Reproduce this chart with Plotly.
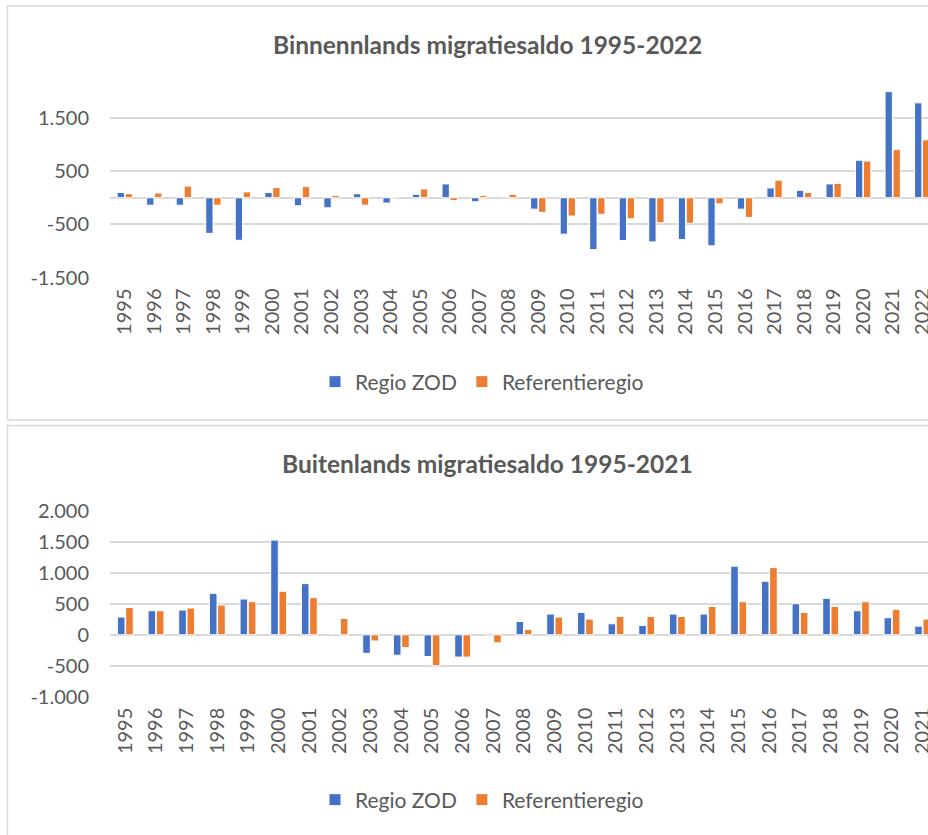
import plotly.graph_objects as go

# Binnenlands migratiesaldo 1995-2022
years_bin = [str(y) for y in range(1995, 2023)]
bin_zod = [100, -140, -140, -670, -800, 100, -150, -190, 75, -100, 65, 260, -75, 25,
           -215, -685, -975, -805, -830, -785, -905, -215, 185, 140, 260, 705, 1995, 1785]
bin_ref = [75, 90, 220, -140, 110, 190, 210, 45, -140, 15, 165, -55, 40, 65,
           -275, -345, -310, -395, -470, -480, -115, -370, 330, 100, 270, 690, 905, 1090]

# Buitenlands migratiesaldo 1995-2021
years_buit = [str(y) for y in range(1995, 2022)]
buit_zod = [286, 389, 400, 670, 578, 1530, 827, -20, -300, -330, -350, -360, 15, 216,
            335, 362, 178, 151, 335, 335, 1108, 865, 503, 589, 389, 276, 140]
buit_ref = [443, 389, 432, 481, 535, 703, 600, 265, -100, -205, -500, -360, -130, 86,
            286, 254, 297, 297, 297, 459, 535, 1086, 362, 459, 535, 411, 254]

bin_tickvals = [-1500, -500, 500, 1500]
bin_ticktext = ["-1.500", "-500", "500", "1.500"]
buit_tickvals = [-1000, -500, 0, 500, 1000, 1500, 2000]
buit_ticktext = ["-1.000", "-500", "0", "500", "1.000", "1.500", "2.000"]

titles = ["Binnennlands migratiesaldo 1995-2022", "Buitenlands migratiesaldo 1995-2021"]
series_names = ["Regio ZOD", "Referentieregio"]

BLUE = "#4472C4"
ORANGE = "#ED7D31"
GREY = "#595959"
GRID = "#D9D9D9"
W, H = 928, 835


def px(x):
    return x / W


def py(y):
    return 1 - y / H


fig = go.Figure()

for name, vals, col in zip(series_names, [bin_zod, bin_ref], [BLUE, ORANGE]):
    fig.add_trace(go.Bar(x=years_bin, y=vals, name=name, marker_color=col,
                         marker_line=dict(color="white", width=1),
                         xaxis="x", yaxis="y", legend="legend"))

for name, vals, col in zip(series_names, [buit_zod, buit_ref], [BLUE, ORANGE]):
    fig.add_trace(go.Bar(x=years_buit, y=vals, name=name, marker_color=col,
                         marker_line=dict(color="white", width=1),
                         xaxis="x2", yaxis="y2", legend="legend2"))

tick_font = dict(family="Lato", size=20, color=GREY)
legend_font = dict(family="Lato", size=21, color=GREY)

# the plot areas run past the right edge of the picture (cut at 928 px)
top_end = -0.5 + (W - 110) / ((937 - 110) / 28)
bot_end = -0.5 + (W - 110) / ((938 - 110) / 27)

xcommon = dict(type="category", tickangle=-90, tickfont=tick_font, showgrid=False,
               showline=False, ticks="", ticklabelstandoff=6, automargin=False)
ycommon = dict(tickfont=tick_font, gridcolor=GRID, gridwidth=1.5, zeroline=True,
               zerolinecolor=GRID, zerolinewidth=1.5, showline=False, ticks="",
               ticklabelstandoff=20, automargin=False)

fig.update_layout(
    template="none",
    width=W, height=H,
    margin=dict(l=0, r=0, t=0, b=0, autoexpand=False),
    paper_bgcolor="white", plot_bgcolor="white",
    barmode="group", bargap=0.46, bargroupgap=0.08,
    xaxis=dict(domain=[px(110), 1], anchor="y", range=[-0.5, top_end], **xcommon),
    yaxis=dict(domain=[py(277.5), py(91.4)], anchor="x", range=[-1500, 2000],
               tickvals=bin_tickvals, ticktext=bin_ticktext, **ycommon),
    xaxis2=dict(domain=[px(110), 1], anchor="y2", range=[-0.5, bot_end], **xcommon),
    yaxis2=dict(domain=[py(696.7), py(511)], anchor="x2", range=[-1000, 2000],
                tickvals=buit_tickvals, ticktext=buit_ticktext, **ycommon),
    legend=dict(orientation="h", x=px(315), y=py(382), xanchor="left", yanchor="middle",
                font=legend_font, bgcolor="rgba(0,0,0,0)"),
    legend2=dict(orientation="h", x=px(315), y=py(800), xanchor="left", yanchor="middle",
                 font=legend_font, bgcolor="rgba(0,0,0,0)"),
    showlegend=True,
)

# panel borders (right side runs past the picture edge)
fig.add_shape(type="rect", xref="paper", yref="paper",
              x0=px(7.5), x1=px(1000), y0=py(420), y1=py(6),
              line=dict(color=GRID, width=1.5), layer="below")
fig.add_shape(type="rect", xref="paper", yref="paper",
              x0=px(7.5), x1=px(1000), y0=py(1000), y1=py(425.5),
              line=dict(color=GRID, width=1.5), layer="below")

for t, ty in zip(titles, [45, 463]):
    fig.add_annotation(text="<b>%s</b>" % t, xref="paper", yref="paper",
                       x=px(487.5), y=py(ty), xanchor="center", yanchor="middle",
                       showarrow=False, font=dict(family="Lato", size=24.5, color=GREY))

fig.write_html("out.html", config={"displayModeBar": False},
               post_script="document.body.style.margin='0px';")
